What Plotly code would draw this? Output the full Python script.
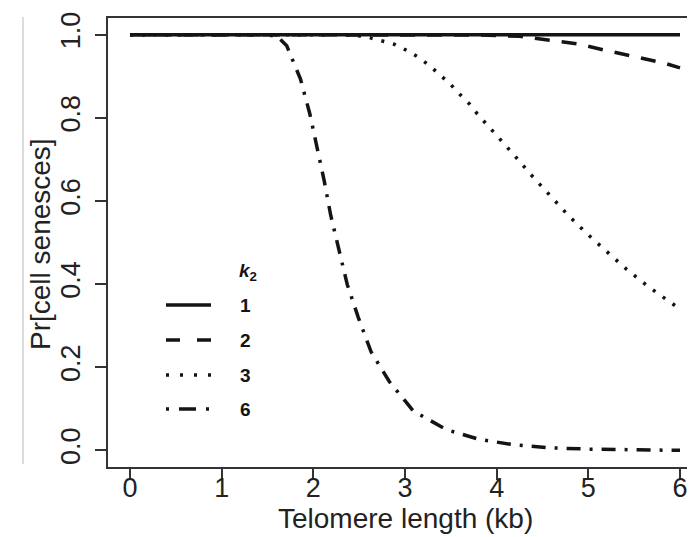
import plotly.graph_objects as go

# ---- data ----
k2_labels = ["1", "2", "3", "6"]

x_k1 = [0.0, 6.0]
y_k1 = [1.0, 1.0]

x_k2 = [0.0, 3.6, 3.82, 4.25, 4.55, 4.88, 5.17, 5.50, 5.82, 6.0]
y_k2 = [1.0, 1.0, 0.999, 0.996, 0.987, 0.978, 0.963, 0.948, 0.932, 0.92]

x_k3 = [0.0, 2.3, 2.56, 2.73, 2.88, 3.02, 3.15, 3.27, 3.38, 3.49, 3.59, 3.70, 3.79,
        3.89, 3.99, 4.18, 4.37, 4.57, 4.77, 4.98, 5.20, 5.42, 5.66, 5.90, 6.0]
y_k3 = [1.0, 1.0, 0.996, 0.987, 0.977, 0.962, 0.945, 0.925, 0.904, 0.882, 0.858, 0.834, 0.809,
        0.785, 0.761, 0.713, 0.664, 0.616, 0.568, 0.522, 0.478, 0.435, 0.393, 0.356, 0.34]

x_k6 = [0.0, 1.4, 1.6, 1.71, 1.86, 1.96, 2.04, 2.12, 2.19, 2.28, 2.37, 2.49, 2.63,
        2.83, 3.09, 3.45, 3.8, 4.2, 4.6, 5.0, 5.5, 6.0]
y_k6 = [1.0, 1.0, 0.997, 0.973, 0.893, 0.811, 0.729, 0.647, 0.565, 0.481, 0.399, 0.320, 0.237,
        0.165, 0.095, 0.050, 0.027, 0.013, 0.006, 0.003, 0.001, 0.0]

x_ticks = [0, 1, 2, 3, 4, 5, 6]
y_ticks = [0.0, 0.2, 0.4, 0.6, 0.8, 1.0]

x_title = "Telomere length (kb)"
y_title = "Pr[cell senesces]"

# ---- styles ----
ink = "#141414"
text_col = "#222222"
font_family = "Liberation Sans, Arial, Helvetica, sans-serif"
lw = 3.5
plot_dash = ["solid", "15px,12px", "3px,9px", "3px,9px,14px,9px"]
key_dash = ["solid", "14px,17px", "3px,11px", "3px,10px,17px,10px"]

series = [(x_k1, y_k1), (x_k2, y_k2), (x_k3, y_k3), (x_k6, y_k6)]

fig = go.Figure()
for (xs, ys), d, name in zip(series, plot_dash, k2_labels):
    fig.add_trace(go.Scatter(x=xs, y=ys, mode="lines", name=name, showlegend=False,
                             line=dict(color=ink, width=lw, dash=d)))

W, H = 695, 537
ml, mr, mt, mb = 100, 1, 10, 78
pw, ph = W - ml - mr, H - mt - mb

def px(xp):
    return (xp - ml) / pw

def py(yp):
    return 1 - (yp - mt) / ph

shapes = []
annotations = []
# legend keys (manual, R-style)
rows_y = [297, 332, 367, 401]
for lab, d, ry in zip(k2_labels, key_dash, rows_y):
    shapes.append(dict(type="line", xref="paper", yref="paper",
                       x0=px(158), x1=px(203), y0=py(ry), y1=py(ry),
                       line=dict(color=ink, width=lw, dash=d)))
    annotations.append(dict(text="<b>%s</b>" % lab, xref="paper", yref="paper",
                            x=px(237), y=py(ry), showarrow=False,
                            xanchor="center", yanchor="middle",
                            font=dict(size=19, color=ink, family=font_family)))
annotations.append(dict(text="<b><i>k</i></b><sub><b>2</b></sub>", xref="paper", yref="paper",
                        x=px(240), y=py(264), showarrow=False,
                        xanchor="center", yanchor="middle",
                        font=dict(size=19, color=ink, family=font_family)))
# axis titles placed as in the reference
annotations.append(dict(text=x_title, xref="paper", yref="paper",
                        x=0.5, y=py(510), showarrow=False,
                        xanchor="center", yanchor="middle",
                        font=dict(size=28, color=text_col, family=font_family)))
annotations.append(dict(text=y_title, xref="paper", yref="paper",
                        x=px(32), y=py(236), showarrow=False, textangle=-90,
                        xanchor="center", yanchor="middle",
                        font=dict(size=28, color=text_col, family=font_family)))
# faint scan edge at the far left
shapes.append(dict(type="line", xref="paper", yref="paper",
                   x0=px(15), x1=px(15), y0=py(9), y1=py(456),
                   line=dict(color="#d0d0d0", width=1.5)))

axis_common = dict(showline=True, mirror=True, linecolor="#333333", linewidth=1.5,
                   ticks="outside", ticklen=11, tickwidth=1.5, tickcolor="#333333",
                   showgrid=False, zeroline=False,
                   tickfont=dict(size=27, color=text_col, family=font_family))

fig.update_layout(
    width=W, height=H,
    margin=dict(l=ml, r=mr, t=mt, b=mb, autoexpand=False),
    paper_bgcolor="white", plot_bgcolor="white",
    shapes=shapes, annotations=annotations,
    xaxis=dict(range=[-0.24, 6.24], tickvals=x_ticks, ticktext=[str(v) for v in x_ticks],
               ticklabelstandoff=-15,
               **axis_common),
    yaxis=dict(range=[-0.04, 1.04], tickvals=y_ticks, ticktext=["%.1f" % v for v in y_ticks],
               tickangle=-90, ticklabelstandoff=4,
               **axis_common),
)

fig.write_html("out.html")
